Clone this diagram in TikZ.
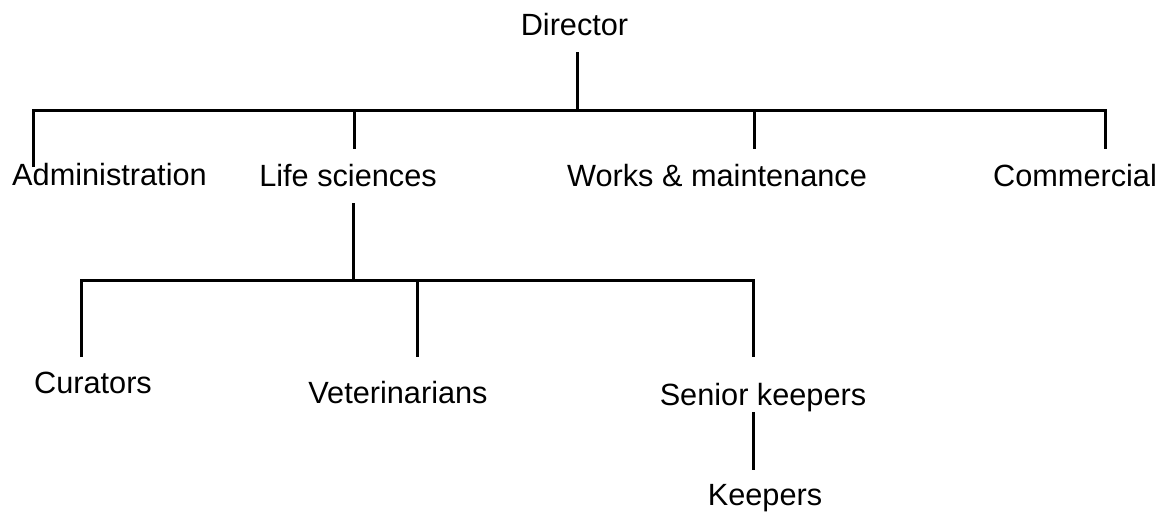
\documentclass[tikz,border=0pt]{standalone}
\usepackage{fontspec}
\setmainfont{Liberation Sans}
\begin{document}
\begin{tikzpicture}[x=1pt,y=-1pt,
  lbl/.style={anchor=base,inner sep=0pt,font=\fontsize{30.7}{36}\selectfont},
  conn/.style={line width=3pt,line cap=butt,line join=miter}]
\useasboundingbox (0,0) rectangle (1168,512);
% labels
\node[lbl] (dir) at (574.5,35) {Director};
\node[lbl] (adm) at (109.5,185) {Administration};
\node[lbl] (life) at (348,186) {Life sciences};
\node[lbl] (works) at (717,186) {Works \& maintenance};
\node[lbl] (comm) at (1075,186) {Commercial};
\node[lbl] (cur) at (93,393) {Curators};
\node[lbl] (vet) at (398,403) {Veterinarians};
\node[lbl] (sen) at (763,405) {Senior keepers};
\node[lbl] (keep) at (765,505) {Keepers};
% connector ends
\coordinate (dirA) at (577,52);
\coordinate (dirB) at (577,110);
\coordinate (admA) at (33,110);
\coordinate (admB) at (33,167);
\coordinate (lifeA) at (354,110);
\coordinate (lifeB) at (354,149);
\coordinate (worksA) at (754,110);
\coordinate (worksB) at (754,149);
\coordinate (commA) at (1105,110);
\coordinate (commB) at (1105,149);
\coordinate (lifeC) at (353,203);
\coordinate (lifeD) at (353,280);
\coordinate (curA) at (81,280);
\coordinate (curB) at (81,357);
\coordinate (vetA) at (417,280);
\coordinate (vetB) at (417,357);
\coordinate (senA) at (753,280);
\coordinate (senB) at (753,357);
\coordinate (senC) at (753,412);
\coordinate (keepA) at (753,470);
% connectors
\draw[conn] (dirA) -- (dirB);
\draw[conn] (admB) -- (admA) -- (commA) -- (commB);
\draw[conn] (lifeA) -- (lifeB);
\draw[conn] (worksA) -- (worksB);
\draw[conn] (lifeC) -- (lifeD);
\draw[conn] (curB) -- (curA) -- (senA) -- (senB);
\draw[conn] (vetA) -- (vetB);
\draw[conn] (senC) -- (keepA);
\end{tikzpicture}
\end{document}
